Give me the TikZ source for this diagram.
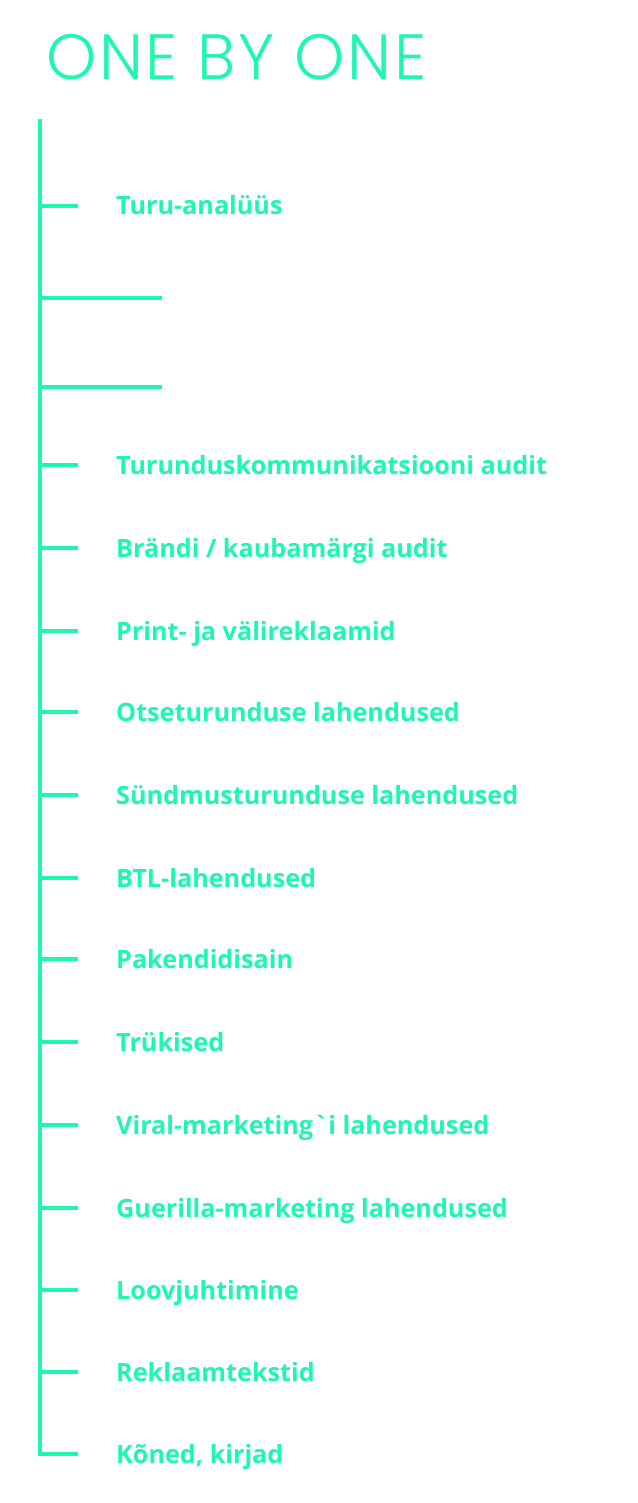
\documentclass[tikz,border=0pt]{standalone}
\usepackage{fontspec}
\setmainfont{Open Sans}
\newfontfamily\titlefont{Poppins}[UprightFont=* Light,LetterSpace=4]
\definecolor{mint}{HTML}{1EF7B2}
\begin{document}
\begin{tikzpicture}[x=1pt,y=-1pt,
  trunk/.style={draw=mint,line width=3.5pt},
  tick/.style={draw=mint,line width=3.5pt},
  item/.style={anchor=base west,inner sep=0pt,text=mint,font=\bfseries\fontsize{25.2}{28}\selectfont}]
\useasboundingbox (0,0) rectangle (637,1503);
\node[anchor=base west,inner sep=0pt,text=mint,font=\titlefont\fontsize{64}{66}\selectfont] (title) at (46,80) {ONE BY ONE};
\coordinate (top) at (40,119);
\coordinate (bot) at (40,1456);
\draw[trunk] (top) -- (bot);
\foreach \y/\t [count=\i] in {206/{Turu-analüüs},465/{Turunduskommunikatsiooni audit},548/{Brändi / kaubamärgi audit},631/{Print- ja välireklaamid},712/{Otseturunduse lahendused},795/{Sündmusturunduse lahendused},878/{BTL-lahendused},959/{Pakendidisain},1042/{Trükised},1125/{Viral-marketing\textasciigrave i lahendused},1208/{Guerilla-marketing lahendused},1290/{Loovjuhtimine},1372/{Reklaamtekstid},1454/{Kõned, kirjad}}{
  \coordinate (s\i) at (40,\y);
  \coordinate (e\i) at (78,\y);
  \draw[tick] (s\i) -- (e\i);
  \node[item] (t\i) at (116,\y+9) {\t};
}
\coordinate (l1) at (40,298);
\coordinate (m1) at (162,298);
\coordinate (l2) at (40,387);
\coordinate (m2) at (162,387);
\draw[tick] (l1) -- (m1);
\draw[tick] (l2) -- (m2);
\end{tikzpicture}
\end{document}
